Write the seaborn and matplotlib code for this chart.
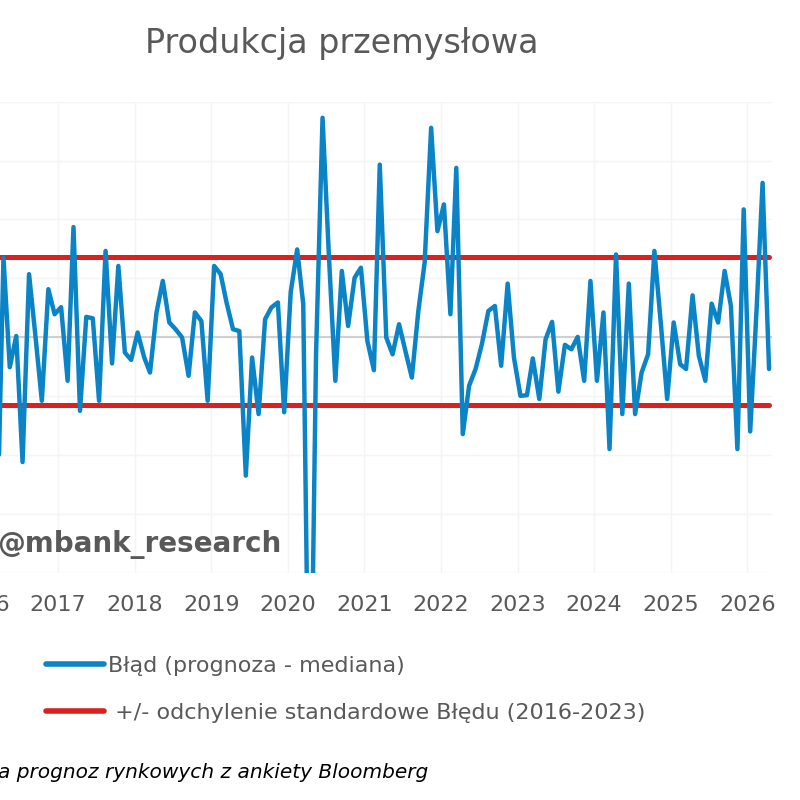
import matplotlib
matplotlib.use("Agg")
import matplotlib.pyplot as plt
import matplotlib.dates as mdates
import seaborn as sns
import pandas as pd

# forecast error, monthly Jan 2016 - Apr 2026 (pp)
blad = [
    1.29, -0.75, -7.02, 2.70, -1.02, 0.04, -4.24, 2.14, 0.00, -2.16, 1.63, 0.78,
    1.02, -1.48, 3.74, -2.50, 0.69, 0.64, -2.16, 2.93, -0.89, 2.42, -0.52, -0.77,
    0.16, -0.68, -1.20, 0.84, 1.91, 0.50, 0.27, -0.01, -1.31, 0.84, 0.55, -2.16,
    2.42, 2.14, 1.18, 0.27, 0.21, -4.70, -0.69, -2.61, 0.61, 1.01, 1.18, -2.55,
    1.52, 2.98, 1.12, -16.0, -0.58, 7.45, 2.81, -1.48, 2.25, 0.38, 2.02, 2.36,
    -0.13, -1.12, 5.86, -0.01, -0.58, 0.44, -0.46, -1.37, 0.89, 2.53, 7.11, 3.60,
    4.51, 0.78, 5.75, -3.29, -1.65, -1.08, -0.24, 0.89, 1.06, -0.97, 1.82, -0.69,
    -1.99, -1.97, -0.72, -2.10, -0.07, 0.52, -1.85, -0.26, -0.41, 0.01, -1.48, 1.91,
    -1.48, 0.84, -3.80, 2.81, -2.61, 1.82, -2.61, -1.20, -0.58, 2.93, 0.44, -2.10,
    0.50, -0.92, -1.08, 1.42, -0.63, -1.48, 1.14, 0.50, 2.25, 1.06, -3.80, 4.34,
    -3.20, 1.02, 5.24, -1.08,
]
std_upper = 2.74
std_lower = -2.29

label_blad = "Błąd (prognoza - mediana)"
label_std = " +/- odchylenie standardowe Błędu (2016-2023)"

dates = pd.date_range("2016-01-01", periods=len(blad), freq="MS") + pd.Timedelta(days=14)
df = pd.DataFrame({"data": dates, "blad": blad,
                   "gora": std_upper, "dol": std_lower})

sns.set_style("white")
plt.rcParams["font.family"] = ["DejaVu Sans"]

grey = "#595959"
blue = "#0a84c6"
red = "#dc1f1f"

fig = plt.figure(figsize=(8, 8), dpi=100)
ax = fig.add_axes([-0.052, 0.284, 1.017, 0.589])

ax.axhline(0, color="#d0d0d0", lw=1.5, zorder=1)
sns.lineplot(data=df, x="data", y="gora", ax=ax, color=red, lw=3.6,
             label=label_std, solid_capstyle="round", zorder=2)
sns.lineplot(data=df, x="data", y="dol", ax=ax, color=red, lw=3.6,
             label="_nolegend_", solid_capstyle="round", zorder=2)
sns.lineplot(data=df, x="data", y="blad", ax=ax, color=blue, lw=3.2,
             label=label_blad, solid_capstyle="round", zorder=3)

ax.set_ylim(-8, 8)
ax.set_yticks(range(-8, 9, 2))
ax.set_xlim(pd.Timestamp("2015-09-13"), pd.Timestamp("2026-04-29"))
ax.xaxis.set_major_locator(mdates.YearLocator())
ax.xaxis.set_major_formatter(mdates.DateFormatter("%Y"))
ax.grid(True, color="#f4f4f4", lw=1)
for s in ax.spines.values():
    s.set_visible(False)
ax.tick_params(axis="x", length=0, labelsize=16, labelcolor=grey, pad=16)
ax.tick_params(axis="y", length=0, labelleft=False)
ax.set_xlabel("")
ax.set_ylabel("")

handles, labels = ax.get_legend_handles_labels()
order = [labels.index(label_blad), labels.index(label_std)]
leg = ax.legend([handles[i] for i in order], [labels[i] for i in order],
                loc="upper left", bbox_to_anchor=(0.058, 0.180),
                bbox_transform=fig.transFigure, frameon=False,
                fontsize=16, handlelength=2.6, handletextpad=0.15,
                labelspacing=1.22, borderpad=0, borderaxespad=0)
for t in leg.get_texts():
    t.set_color(grey)
for h in leg.get_lines():
    h.set_linewidth(4)
    h.set_solid_capstyle("round")

fig.text(0.4275, 0.946, "Produkcja przemysłowa", ha="center", va="center",
         fontsize=24, color=grey)
fig.text(-0.004, 0.319, "@mbank_research", ha="left", va="center",
         fontsize=20, fontweight="bold", color=grey)
fig.text(-0.002, 0.035, "a prognoz rynkowych z ankiety Bloomberg", ha="left",
         va="center", fontsize=14.5, style="italic", color="black")

fig.savefig("out.png", dpi=100)
